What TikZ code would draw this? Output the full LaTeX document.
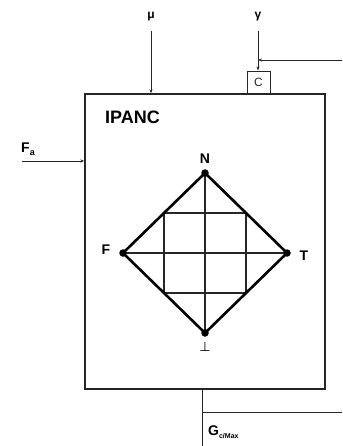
\documentclass[tikz,border=0pt]{standalone}
\usepackage{fontspec}
\setmainfont{Liberation Sans}
\newfontfamily\dejavu{DejaVu Sans}
\usetikzlibrary{arrows.meta,calc}
\begin{document}
\begin{tikzpicture}[x=1pt,y=-1pt,
  thinline/.style={line width=0.9pt,color=black!85},
  tip/.style={-{Stealth[length=4pt,width=3pt]}},
  boxline/.style={line width=1.4pt,color=black!85},
  diam/.style={line width=2.6pt,line join=miter},
  gridline/.style={line width=1.4pt,color=black!85},
  dot/.style={circle,fill=black,inner sep=0pt,minimum size=7.5pt},
  lab/.style={font=\bfseries\fontsize{14}{16}\selectfont,inner sep=0pt},
  small/.style={font=\bfseries\fontsize{12}{14}\selectfont,inner sep=0pt}]
\useasboundingbox (0,0) rectangle (342,446);
% main box
\node[draw,boxline,minimum width=240pt,minimum height=295pt,inner sep=0pt] (box) at (205,241.5) {};
\node[font=\bfseries\fontsize{18}{20}\selectfont,inner sep=0pt,anchor=west] (title) at (105,117) {IPANC};
% C box
\node[draw,thinline,minimum width=23pt,minimum height=23pt,inner sep=0pt,font=\fontsize{12}{14}\selectfont] (cbox) at (258.5,82.5) {C};
% top inputs
\node[small] (mu) at (151,17) {μ};
\node[small] (gamma) at (258,17) {γ};
\coordinate (mutop) at (151,31);
\coordinate (gtop) at (258,31);
\draw[thinline,tip] (mutop) -- (mutop |- box.north);
\draw[thinline,tip] (gtop) -- (gtop |- cbox.north);
\coordinate (gin) at (342,60);
\draw[thinline,tip] (gin) -- (gin -| gtop);
% left input
\node[lab,anchor=west] (fa) at (21,149) {F\raisebox{-0.45ex}{\fontsize{9}{10}\selectfont a}};
\coordinate (fstart) at (22,161);
\draw[thinline,tip] (fstart) -- (fstart -| box.west);
% diamond
\coordinate (N) at (205,173);
\coordinate (F) at (123,253);
\coordinate (T) at (287,253);
\coordinate (B) at (205,333);
\draw[gridline] ($(F)!0.5!(N)$) rectangle ($(T)!0.5!(B)$);
\draw[gridline] (N) -- (B);
\draw[gridline] (F) -- (T);
\draw[diam] (N) -- (T) -- (B) -- (F) -- cycle;
\node[dot] (dN) at (N) {};
\node[dot] (dF) at (F) {};
\node[dot] (dT) at (T) {};
\node[dot] (dB) at (B) {};
\node[lab] (lN) at (205,159) {N};
\node[lab] (lF) at (106,250) {F};
\node[lab] (lT) at (304,256) {T};
\node[inner sep=0pt,font=\dejavu\fontsize{13}{15}\selectfont] (lB) at (205,347) {⊥};
% bottom output
\coordinate (bout) at (202,446);
\draw[thinline] (box.south -| bout) -- (bout);
\coordinate (hout) at (342,412);
\draw[thinline] (hout -| bout) -- (hout);
\node[lab,anchor=west] (G) at (208,432) {G\raisebox{-0.45ex}{\fontsize{7}{8}\selectfont c/Max}};
\end{tikzpicture}
\end{document}
